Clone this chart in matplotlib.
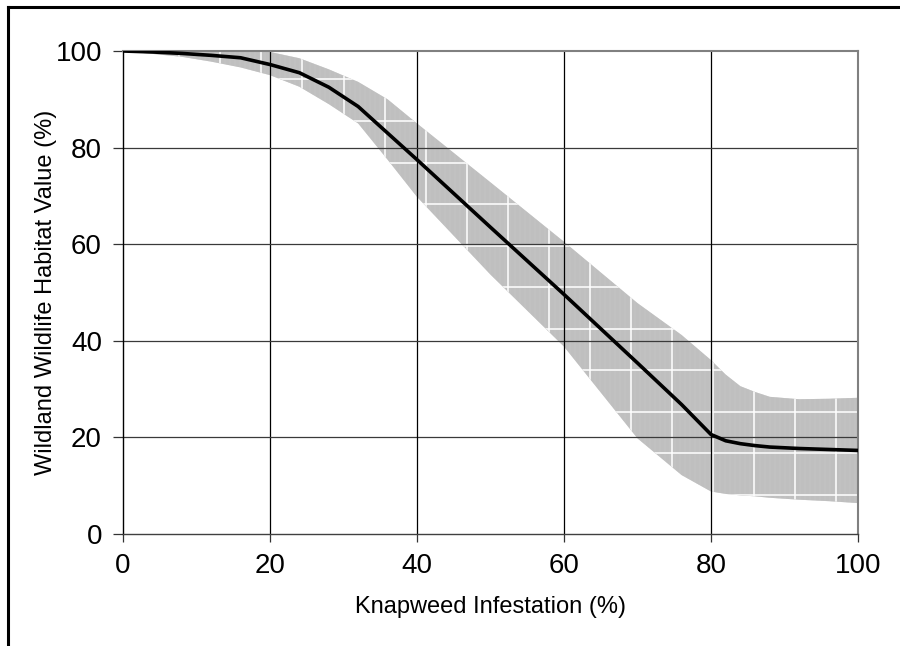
import numpy as np
import matplotlib.pyplot as plt
from matplotlib.lines import Line2D

plt.rcParams['font.family'] = ['Liberation Sans', 'DejaVu Sans']
plt.rcParams['hatch.linewidth'] = 0.5

# data
infestation = [0, 4, 8, 12, 16, 20, 24, 28, 32, 36, 40, 50, 60, 70, 76, 80,
               82, 84, 86, 88, 92, 96, 100]
habitat_mean = [100, 99.8, 99.5, 99.1, 98.6, 97.2, 95.5, 92.5, 88.5, 83.0, 77.5,
                63.5, 49.6, 35.4, 26.8, 20.6, 19.3, 18.7, 18.3, 18.0, 17.7, 17.5, 17.3]
habitat_upper = [100, 100, 100, 100, 100, 99.8, 98.5, 96.2, 93.6, 90.0, 85.0,
                 72.8, 60.5, 47.8, 41.2, 36.0, 33.0, 30.6, 29.4, 28.4, 27.9, 28.0, 28.2]
habitat_lower = [100, 99.4, 98.8, 97.8, 96.6, 95.0, 92.6, 89.0, 85.0, 77.5, 69.8,
                 53.7, 38.8, 19.8, 12.2, 8.8, 8.3, 8.0, 7.8, 7.5, 7.1, 6.8, 6.4]
ticks = [0, 20, 40, 60, 80, 100]

fig = plt.figure(figsize=(9, 6.46), dpi=100)
ax = fig.add_axes([123/900, 112/646, 735/900, 483/646])

# shaded band with a fine striped texture
band = ax.fill_between(infestation, habitat_lower, habitat_upper,
                       facecolor='#d6d6d6', edgecolor='#bcbcbc', hatch='|' * 20,
                       linewidth=0, zorder=1)
# white tile seams inside the band
clip = band.get_paths()[0]
for xv in np.arange(2.1, 100, 5.58):
    l, = ax.plot([xv, xv], [0, 100], color='white', lw=1.1, zorder=1.5)
    l.set_clip_path(clip, ax.transData)
for yv in np.arange(8.1, 100, 8.6):
    l, = ax.plot([0, 100], [yv, yv], color='white', lw=1.1, zorder=1.5)
    l.set_clip_path(clip, ax.transData)

# grid
for t in ticks[1:-1]:
    ax.axvline(t, color='black', lw=0.9, zorder=2)
    ax.axhline(t, color='#3a3a3a', lw=0.9, zorder=2)

ax.plot(infestation, habitat_mean, color='black', lw=2.6, zorder=3,
        solid_joinstyle='round')

ax.set_xlim(0, 100)
ax.set_ylim(0, 100)
ax.set_xticks(ticks)
ax.set_yticks(ticks)
ax.tick_params(axis='both', labelsize=20, direction='out', width=0.9)
ax.tick_params(axis='y', length=7.2, pad=8, color='#333333')
ax.tick_params(axis='x', length=6, pad=8, color='#333333')

ax.spines['left'].set_color('black')
ax.spines['left'].set_linewidth(1.0)
ax.spines['bottom'].set_color('#404040')
ax.spines['bottom'].set_linewidth(1.0)
ax.spines['top'].set_color('#808080')
ax.spines['top'].set_linewidth(1.5)
ax.spines['right'].set_color('#808080')
ax.spines['right'].set_linewidth(1.5)

ax.set_xlabel('Knapweed Infestation (%)', fontsize=17, labelpad=12)
ax.set_ylabel('Wildland Wildlife Habitat Value (%)', fontsize=17, labelpad=-1)

# outer frame (cut off at right and bottom)
fx, fy = 7.5 / 900, 1 - 6.5 / 646
fig.add_artist(Line2D([fx, fx], [0, fy], color='black', lw=2.2,
                      transform=fig.transFigure))
fig.add_artist(Line2D([fx, 1], [fy, fy], color='black', lw=2.2,
                      transform=fig.transFigure))

fig.savefig('out.png', dpi=100)
